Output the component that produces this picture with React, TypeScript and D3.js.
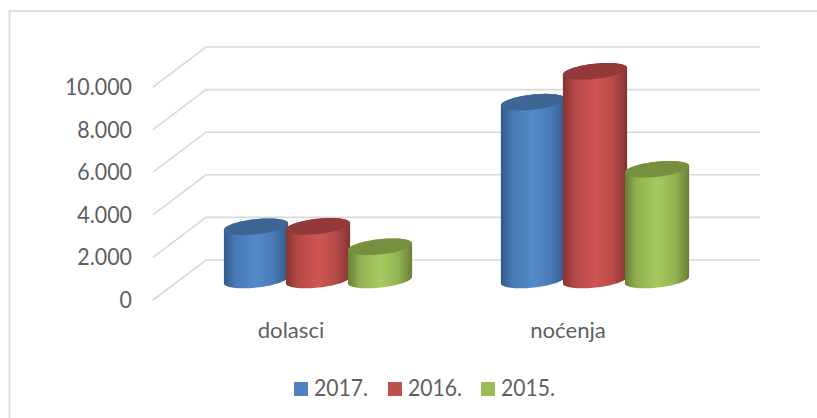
import React from "react";
import * as d3 from "d3";

const categories = ["dolasci", "noćenja"];
const seriesNames = ["2017.", "2016.", "2015."];
const values2017 = [2500, 8350];
const values2016 = [2520, 9800];
const values2015 = [1560, 5200];
const seriesValues = [values2017, values2016, values2015];
const yTicks = [0, 2000, 4000, 6000, 8000, 10000];
const yTickLabels = ["0", "2.000", "4.000", "6.000", "8.000", "10.000"];
const swatch = ["#4f81bd", "#c0504d", "#9bbb59"];
const sideEdge = ["#325a8a", "#843331", "#677f35"];
const sideMid = ["#5489ca", "#ce5553", "#a6ca60"];
const topFill = ["#3e6694", "#93393a", "#76903f"];

const FONT = "Lato, Carlito, 'Open Sans', sans-serif";
const W = 817, H = 418;
const DEPTH_X = 53, DEPTH_Y = -40;
const TILT = 6.2;
const TEXT = "#5f5f5f";

const xFront = d3.scaleBand<string>().domain(categories).range([153, 707]);
const y = d3.scaleLinear().domain([0, 10000]).range([300, 87]);
const seriesBand = d3.scaleBand<string>().domain(seriesNames).range([-93, 93]);

const RX = 32.3, RY = 7.6;
const rad = (TILT * Math.PI) / 180;
const line = d3.line();
const angles = d3.range(0, 41).map((i) => (i / 40) * Math.PI);

// point on the tilted ellipse; t=0 is the right end, t=PI the left end; sign=-1 runs over the back
function ell(cx: number, cy: number, t: number, sign: number): [number, number] {
  const a = RX * Math.cos(t), b = sign * RY * Math.sin(t);
  return [cx + a * Math.cos(rad) + b * Math.sin(rad), cy - a * Math.sin(rad) + b * Math.cos(rad)];
}

function cylinder(cx: number, yTop: number, yBot: number) {
  const back = angles.map((t) => ell(cx, yTop, t, -1));
  const frontTop = angles.map((t) => ell(cx, yTop, t, 1));
  const frontBot = angles.map((t) => ell(cx, yBot, t, 1));
  const side = line([...back, ...[...frontBot].reverse()])! + "Z";
  const top = line([...back, ...[...frontTop].reverse()])! + "Z";
  return { side, top };
}

export default function App() {
  const midX = DEPTH_X / 2, midY = DEPTH_Y / 2;
  return (
    <svg width={W} height={H} style={{ position: "absolute", left: 0, top: 0, background: "#fff" }} fontFamily={FONT}>
      <defs>
        {seriesNames.map((_, i) => (
          <linearGradient key={i} id={`g${i}`} x1="0" x2="1" y1="0" y2="0">
            <stop offset="0" stopColor={sideEdge[i]} />
            <stop offset="0.18" stopColor={d3.interpolateRgb(sideEdge[i], sideMid[i])(0.65)} />
            <stop offset="0.5" stopColor={sideMid[i]} />
            <stop offset="0.78" stopColor={d3.interpolateRgb(sideEdge[i], sideMid[i])(0.7)} />
            <stop offset="1" stopColor={sideEdge[i]} />
          </linearGradient>
        ))}
      </defs>
      <path d="M9.5 418V11H817" fill="none" stroke="#dedede" strokeWidth={2} />
      {yTicks.map((t) => (
        <path
          key={t}
          d={`M153 ${y(t)}L${153 + DEPTH_X} ${y(t) + DEPTH_Y}H760`}
          fill="none"
          stroke="#d9d9d9"
          strokeWidth={1.6}
        />
      ))}
      {yTickLabels.map((l, i) => (
        <text
          key={l}
          transform={`translate(132,${y(yTicks[i]) + 8}) scale(0.93,1)`}
          textAnchor="end"
          fontSize={23}
          fill={TEXT}
        >
          {l}
        </text>
      ))}
      {categories.map((c, ci) => {
        const center = xFront(c)! + xFront.bandwidth() / 2;
        return (
          <g key={c}>
            {seriesNames.map((s, si) => {
              const cx = center + midX + seriesBand(s)! + seriesBand.bandwidth() / 2;
              const { side, top } = cylinder(cx, y(seriesValues[si][ci]) + midY, y(0) + midY);
              return (
                <g key={s}>
                  <path d={side} fill={`url(#g${si})`} />
                  <path d={top} fill={topFill[si]} />
                </g>
              );
            })}
            <text
              transform={`translate(${center - 0.5},338) scale(1.03,1)`}
              textAnchor="middle"
              fontSize={21.5}
              fill={TEXT}
            >
              {c}
            </text>
          </g>
        );
      })}
      {seriesNames.map((s, i) => {
        const lx = [294, 388, 481][i];
        return (
          <g key={s}>
            <rect x={lx} y={382} width={14} height={14} fill={swatch[i]} />
            <text
              transform={`translate(${lx + 20},396) scale(0.92,1)`}
              fontSize={23}
              fill={TEXT}
            >
              {s}
            </text>
          </g>
        );
      })}
    </svg>
  );
}
